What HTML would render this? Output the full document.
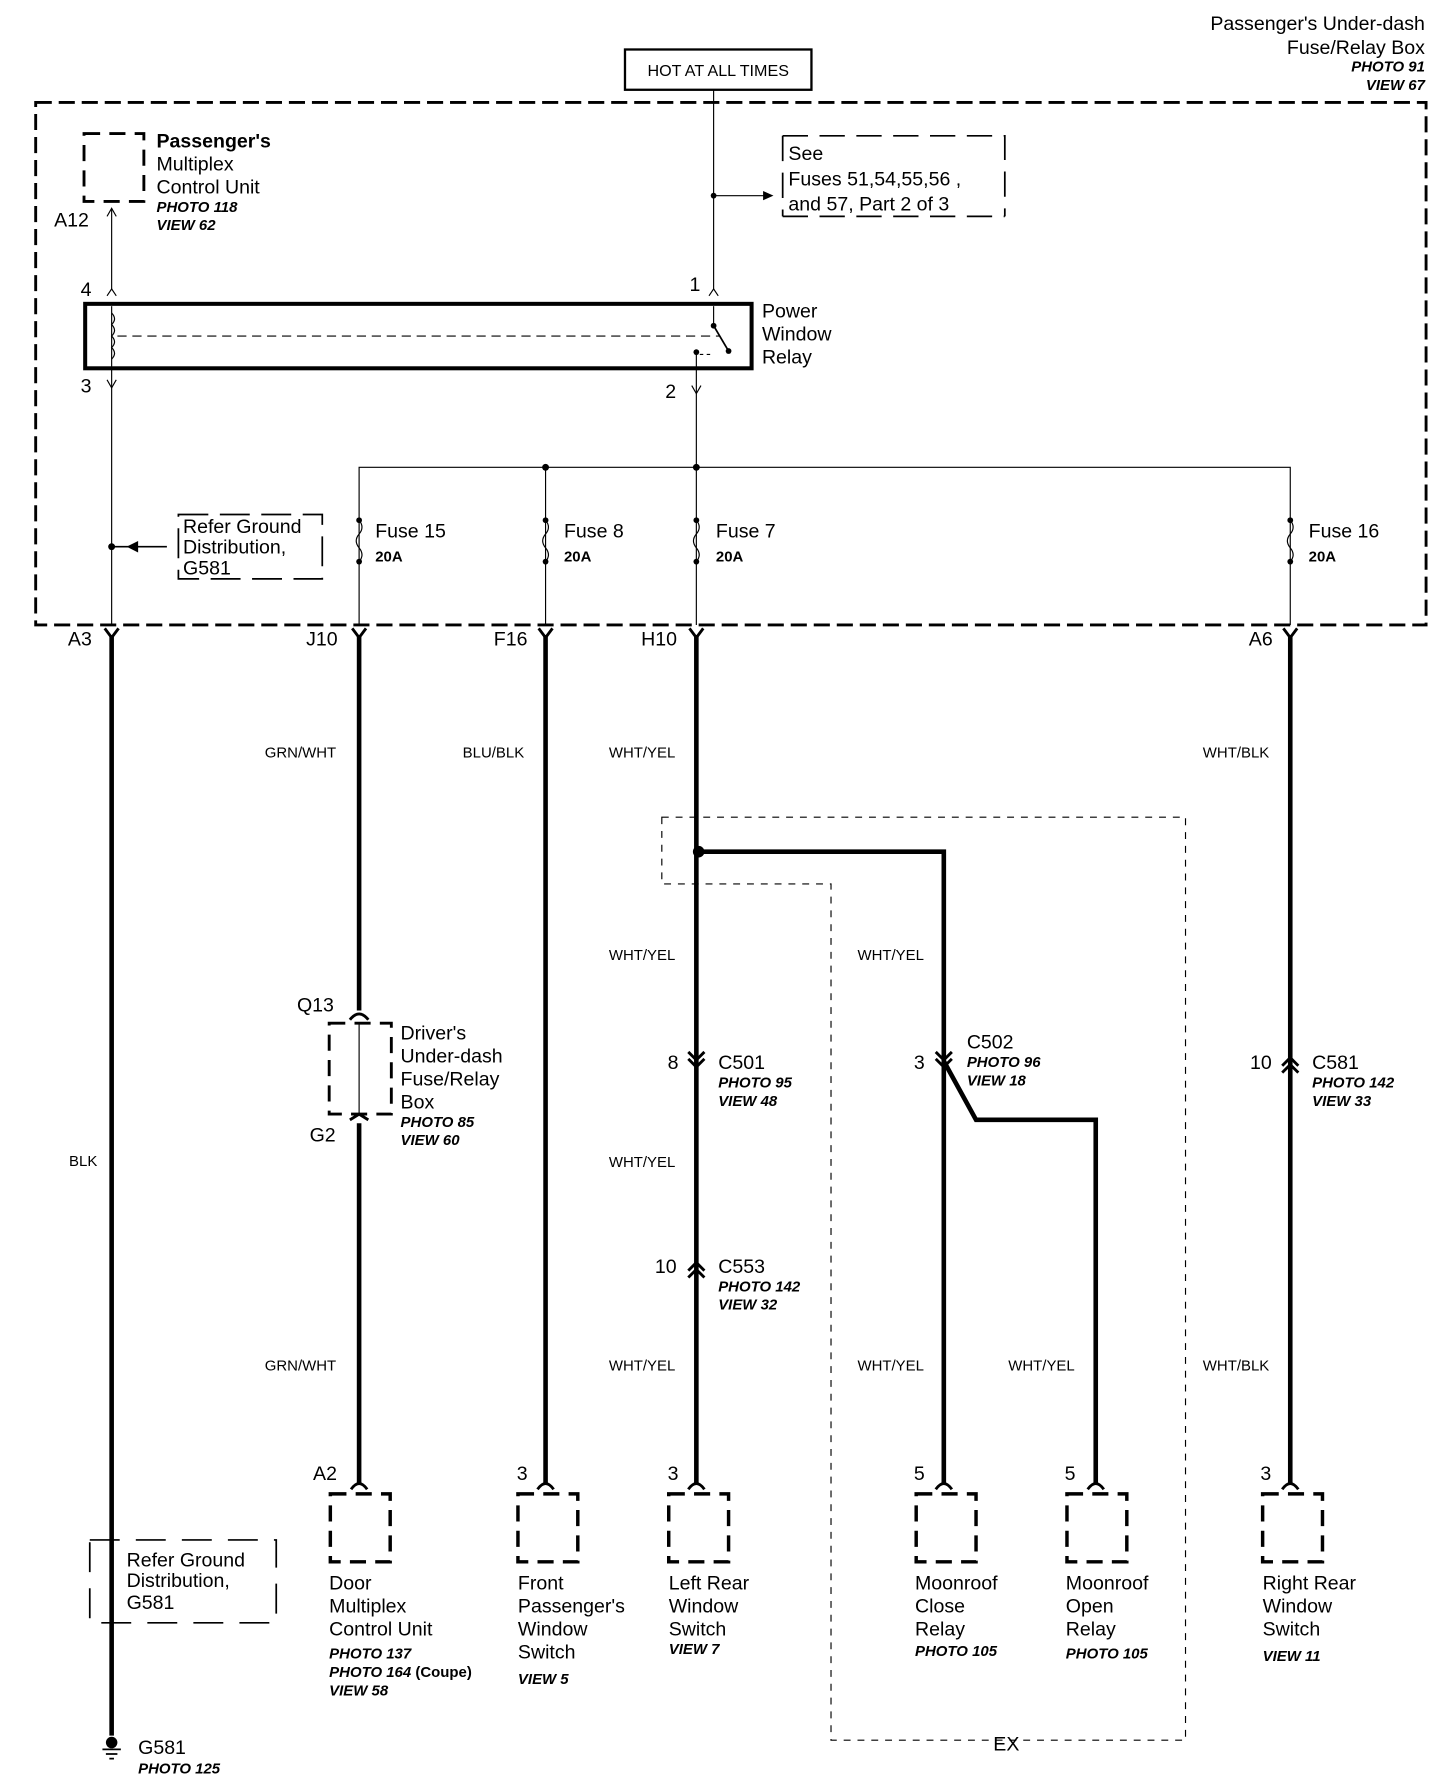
<!DOCTYPE html>
<html><head><meta charset="utf-8"><style>
html,body{margin:0;padding:0;background:#fff}
svg{display:block}
text{font-family:"Liberation Sans",Arial,sans-serif;fill:#000}
.t{font-size:17px}
.s{font-size:13px;font-weight:bold}
.i{font-size:13px;font-style:italic;font-weight:bold}
.n{font-size:17px}
.w{font-size:13px}
</style></head><body>
<svg width="1456" height="1792" viewBox="0 0 1265 1557" preserveAspectRatio="none" xmlns="http://www.w3.org/2000/svg">
<g fill="none" stroke="#000">
<!-- main dashed box -->
<rect x="31" y="89" width="1208" height="454" stroke-width="2.5" stroke-dasharray="14,6"/>
<!-- HOT box -->
<rect x="543" y="43" width="162" height="35" stroke-width="2"/>
<line x1="620" y1="78" x2="620" y2="252" stroke-width="1"/>
<line x1="620" y1="170" x2="665" y2="170" stroke-width="1"/>
<!-- See box -->
<path d="M680 118 H873 V188 M680 188 H873 M680 118 V188" stroke-width="1.5" stroke-dasharray="22,10"/>
<!-- passenger multiplex box -->
<rect x="73" y="116" width="52" height="59" stroke-width="2.5" stroke-dasharray="14,8"/>
<line x1="97" y1="182" x2="97" y2="252" stroke-width="1"/>
<path d="M93 188 L97 181 L101 188" stroke-width="1"/>
<!-- relay -->
<rect x="74" y="264" width="579" height="56" stroke-width="3.5"/>
<path d="M93 257 L97 251 L101 257 M616 257 L620 251 L624 257" stroke-width="1"/>
<line x1="97" y1="266" x2="97" y2="320" stroke-width="1"/>
<path d="M97 272 q5 5 0 10 q5 5 0 10 q5 5 0 10 q5 5 0 10" stroke-width="1"/>
<line x1="102" y1="292" x2="625" y2="292" stroke-width="1" stroke-dasharray="8,5"/>
<line x1="620" y1="266" x2="620" y2="283" stroke-width="1"/>
<line x1="620" y1="283" x2="633" y2="305" stroke-width="1.5"/>
<line x1="605" y1="306" x2="605" y2="320" stroke-width="1"/>
<line x1="608" y1="308" x2="620" y2="308" stroke-width="1" stroke-dasharray="3,3"/>
<path d="M93 330 L97 337 L101 330 M601 335 L605 342 L609 335" stroke-width="1"/>
<line x1="97" y1="320" x2="97" y2="543" stroke-width="1"/>
<line x1="605" y1="320" x2="605" y2="543" stroke-width="1"/>
<!-- refer ground top -->
<line x1="97" y1="475" x2="145" y2="475" stroke-width="1.5"/>
<path d="M155 447 H280 V503 H155 Z" stroke-width="1.5" stroke-dasharray="26,10"/>
<!-- bus -->
<path d="M312 543 V406 H1121 V543 M474 406 V543" stroke-width="1"/>
<!-- fuses -->
<g stroke-width="1">
<path d="M312 452 q5 6 0 12 q-5 6 0 12 q5 6 0 12"/>
<path d="M474 452 q5 6 0 12 q-5 6 0 12 q5 6 0 12"/>
<path d="M605 452 q5 6 0 12 q-5 6 0 12 q5 6 0 12"/>
<path d="M1121 452 q5 6 0 12 q-5 6 0 12 q5 6 0 12"/>
</g>
<!-- top connectors -->
<g stroke-width="2.5">
<path d="M91 546 L97 554 L103 546 M306 546 L312 554 L318 546 M468 546 L474 554 L480 546 M599 546 L605 554 L611 546 M1115 546 L1121 554 L1127 546"/>
</g>
<!-- thick wires -->
<g stroke-width="4">
<line x1="97" y1="552" x2="97" y2="1508"/>
<line x1="312" y1="552" x2="312" y2="878"/>
<line x1="312" y1="976" x2="312" y2="1290"/>
<line x1="474" y1="552" x2="474" y2="1290"/>
<line x1="605" y1="552" x2="605" y2="1290"/>
<line x1="1121" y1="552" x2="1121" y2="1290"/>
<path d="M607 740 H820 V1290"/>
<path d="M820 922 L848 973 H952 V1290"/>
</g>
<!-- EX dotted box -->
<path d="M575 710 H1030 V1512 H722 V768 H575 Z" stroke-width="1" stroke-dasharray="6,6"/>
<!-- Driver's box -->
<rect x="286" y="889" width="54" height="79" stroke-width="2.5" stroke-dasharray="14,8"/>
<line x1="312" y1="890" x2="312" y2="968" stroke-width="1"/>
<path d="M304 886 Q312 876 320 886 M304 973 L312 968 L320 973" stroke-width="2.5"/>
<!-- inline connectors -->
<path d="M598 914 L605 921 L612 914 M598 920 L605 927 L612 920" stroke-width="2.5"/>
<path d="M813 914 L820 921 L827 914 M813 920 L820 927 L827 920" stroke-width="2.5"/>
<path d="M598 1104 L605 1097 L612 1104 M598 1110 L605 1103 L612 1110" stroke-width="2.5"/>
<path d="M1114 926 L1121 919 L1128 926 M1114 932 L1121 925 L1128 932" stroke-width="2.5"/>
<!-- bottom connectors -->
<g stroke-width="2.5">
<path d="M305 1294 Q312 1284 319 1294 M467 1294 Q474 1284 481 1294 M598 1294 Q605 1284 612 1294 M813 1294 Q820 1284 827 1294 M945 1294 Q952 1284 959 1294 M1114 1294 Q1121 1284 1128 1294"/>
</g>
<g stroke-width="3" stroke-dasharray="14,8">
<rect x="287" y="1298" width="52" height="59"/>
<rect x="450" y="1298" width="52" height="59"/>
<rect x="581" y="1298" width="52" height="59"/>
<rect x="796" y="1298" width="52" height="59"/>
<rect x="927" y="1298" width="52" height="59"/>
<rect x="1097" y="1298" width="52" height="59"/>
</g>
<!-- refer ground bottom -->
<rect x="78" y="1338" width="162" height="72" stroke-width="1.5" stroke-dasharray="26,14"/>
<!-- ground -->
<path d="M89 1520 H105 M92 1524 H102 M95 1528 H99" stroke-width="1.5"/>
</g>
<g fill="#000">
<polygon points="672,170 663,166 663,174"/>
<polygon points="110,475 120,470 120,480"/>
<circle cx="620" cy="170" r="2.5"/>
<circle cx="97" cy="475" r="3"/>
<circle cx="474" cy="406" r="3"/>
<circle cx="605" cy="406" r="3"/>
<circle cx="607" cy="740" r="5"/>
<circle cx="620" cy="283" r="2.5"/><circle cx="633" cy="305" r="2.5"/><circle cx="605" cy="306" r="2.5"/>
<circle cx="312" cy="452" r="2.5"/><circle cx="312" cy="488" r="2.5"/>
<circle cx="474" cy="452" r="2.5"/><circle cx="474" cy="488" r="2.5"/>
<circle cx="605" cy="452" r="2.5"/><circle cx="605" cy="488" r="2.5"/>
<circle cx="1121" cy="452" r="2.5"/><circle cx="1121" cy="488" r="2.5"/>
<circle cx="97" cy="1514" r="5"/>
</g>
<!-- text -->
<text class="t" x="1238" y="26" text-anchor="end">Passenger's Under-dash</text>
<text class="t" x="1238" y="47" text-anchor="end">Fuse/Relay Box</text>
<text class="i" x="1238" y="62" text-anchor="end">PHOTO 91</text>
<text class="i" x="1238" y="78" text-anchor="end">VIEW 67</text>
<text x="624" y="66" text-anchor="middle" style="font-size:14px">HOT AT ALL TIMES</text>
<text class="t" x="685" y="139">See</text>
<text class="t" x="685" y="161">Fuses 51,54,55,56  ,</text>
<text class="t" x="685" y="183">and 57, Part 2 of 3</text>
<text class="t" x="136" y="128" font-weight="bold">Passenger's</text>
<text class="t" x="136" y="148">Multiplex</text>
<text class="t" x="136" y="168">Control Unit</text>
<text class="i" x="136" y="184">PHOTO 118</text>
<text class="i" x="136" y="200">VIEW 62</text>
<text class="n" x="47" y="197">A12</text>
<text class="n" x="70" y="257">4</text>
<text class="n" x="599" y="253">1</text>
<text class="n" x="70" y="341">3</text>
<text class="n" x="578" y="346">2</text>
<text class="t" x="662" y="276">Power</text>
<text class="t" x="662" y="296">Window</text>
<text class="t" x="662" y="316">Relay</text>
<text class="t" x="159" y="463">Refer Ground</text>
<text class="t" x="159" y="481">Distribution,</text>
<text class="t" x="159" y="499">G581</text>
<text class="t" x="326" y="467">Fuse 15</text><text class="s" x="326" y="488">20A</text>
<text class="t" x="490" y="467">Fuse 8</text><text class="s" x="490" y="488">20A</text>
<text class="t" x="622" y="467">Fuse 7</text><text class="s" x="622" y="488">20A</text>
<text class="t" x="1137" y="467">Fuse 16</text><text class="s" x="1137" y="488">20A</text>
<text class="n" x="59" y="561">A3</text>
<text class="n" x="266" y="561">J10</text>
<text class="n" x="429" y="561">F16</text>
<text class="n" x="557" y="561">H10</text>
<text class="n" x="1085" y="561">A6</text>
<text class="w" x="230" y="658">GRN/WHT</text>
<text class="w" x="402" y="658">BLU/BLK</text>
<text class="w" x="529" y="658">WHT/YEL</text>
<text class="w" x="1045" y="658">WHT/BLK</text>
<text class="w" x="529" y="834">WHT/YEL</text>
<text class="w" x="745" y="834">WHT/YEL</text>
<text class="w" x="60" y="1013">BLK</text>
<text class="w" x="529" y="1014">WHT/YEL</text>
<text class="w" x="230" y="1191">GRN/WHT</text>
<text class="w" x="529" y="1191">WHT/YEL</text>
<text class="w" x="745" y="1191">WHT/YEL</text>
<text class="w" x="876" y="1191">WHT/YEL</text>
<text class="w" x="1045" y="1191">WHT/BLK</text>
<text class="n" x="258" y="879">Q13</text>
<text class="t" x="348" y="903">Driver's</text>
<text class="t" x="348" y="923">Under-dash</text>
<text class="t" x="348" y="943">Fuse/Relay</text>
<text class="t" x="348" y="963">Box</text>
<text class="i" x="348" y="979">PHOTO 85</text>
<text class="i" x="348" y="995">VIEW 60</text>
<text class="n" x="269" y="992">G2</text>
<text class="n" x="580" y="929">8</text>
<text class="t" x="624" y="929">C501</text><text class="i" x="624" y="945">PHOTO 95</text><text class="i" x="624" y="961">VIEW 48</text>
<text class="n" x="569" y="1106">10</text>
<text class="t" x="624" y="1106">C553</text><text class="i" x="624" y="1122">PHOTO 142</text><text class="i" x="624" y="1138">VIEW 32</text>
<text class="n" x="794" y="929">3</text>
<text class="t" x="840" y="911">C502</text><text class="i" x="840" y="927">PHOTO 96</text><text class="i" x="840" y="943">VIEW 18</text>
<text class="n" x="1086" y="929">10</text>
<text class="t" x="1140" y="929">C581</text><text class="i" x="1140" y="945">PHOTO 142</text><text class="i" x="1140" y="961">VIEW 33</text>
<text class="n" x="272" y="1286">A2</text>
<text class="n" x="449" y="1286">3</text>
<text class="n" x="580" y="1286">3</text>
<text class="n" x="794" y="1286">5</text>
<text class="n" x="925" y="1286">5</text>
<text class="n" x="1095" y="1286">3</text>
<text class="t" x="110" y="1361">Refer Ground</text>
<text class="t" x="110" y="1379">Distribution,</text>
<text class="t" x="110" y="1398">G581</text>
<text class="t" x="286" y="1381">Door</text><text class="t" x="286" y="1401">Multiplex</text><text class="t" x="286" y="1421">Control Unit</text>
<text class="i" x="286" y="1441">PHOTO 137</text><text class="i" x="286" y="1457">PHOTO 164 <tspan font-style="normal">(Coupe)</tspan></text><text class="i" x="286" y="1473">VIEW 58</text>
<text class="t" x="450" y="1381">Front</text><text class="t" x="450" y="1401">Passenger's</text><text class="t" x="450" y="1421">Window</text><text class="t" x="450" y="1441">Switch</text>
<text class="i" x="450" y="1463">VIEW 5</text>
<text class="t" x="581" y="1381">Left Rear</text><text class="t" x="581" y="1401">Window</text><text class="t" x="581" y="1421">Switch</text>
<text class="i" x="581" y="1437">VIEW 7</text>
<text class="t" x="795" y="1381">Moonroof</text><text class="t" x="795" y="1401">Close</text><text class="t" x="795" y="1421">Relay</text>
<text class="i" x="795" y="1439">PHOTO 105</text>
<text class="t" x="926" y="1381">Moonroof</text><text class="t" x="926" y="1401">Open</text><text class="t" x="926" y="1421">Relay</text>
<text class="i" x="926" y="1441">PHOTO 105</text>
<text class="t" x="1097" y="1381">Right Rear</text><text class="t" x="1097" y="1401">Window</text><text class="t" x="1097" y="1421">Switch</text>
<text class="i" x="1097" y="1443">VIEW 11</text>
<text class="t" x="863" y="1521">EX</text>
<text class="t" x="120" y="1524">G581</text>
<text class="i" x="120" y="1541">PHOTO 125</text>
</svg>
</body></html>
